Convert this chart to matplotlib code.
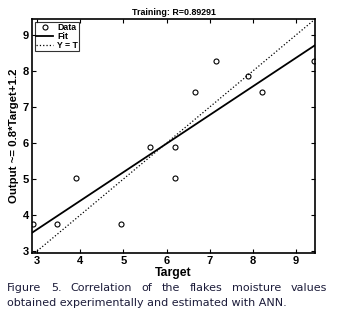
import matplotlib.pyplot as plt
import numpy as np

plt.rcParams['font.family'] = ['Liberation Sans', 'DejaVu Sans']

# values
target = [2.9, 3.46, 3.9, 4.95, 5.61, 6.19, 6.19, 6.66, 7.14, 7.88, 8.2, 9.42]
output = [3.75, 3.75, 5.03, 3.75, 5.9, 5.9, 5.03, 7.41, 8.28, 7.87, 7.41, 8.28]
fit_slope = 0.794
fit_intercept = 1.22
r_value = 0.89291
x_lim = [2.88, 9.44]
y_lim = [2.94, 9.44]

fig = plt.figure(figsize=(3.37, 3.18), dpi=100)
ax = fig.add_axes([0.095, 0.204, 0.84, 0.736])

xs = np.array(x_lim)
ax.plot(target, output, 'o', mfc='none', mec='black', ms=3.6, mew=0.8, label='Data')
ax.plot(xs, fit_slope * xs + fit_intercept, '-', color='black', lw=1.3, label='Fit')
ax.plot([y_lim[0], y_lim[1]], [y_lim[0], y_lim[1]], ':', color='black', lw=0.9, label='Y = T')

ax.set_xlim(x_lim)
ax.set_ylim(y_lim)
ax.set_xticks(range(3, 10))
ax.set_yticks(range(3, 10))
ax.tick_params(direction='in', top=True, right=True, length=3, width=0.8, labelsize=8, pad=2)
for lab in ax.get_xticklabels() + ax.get_yticklabels():
    lab.set_fontweight('bold')
for s in ax.spines.values():
    s.set_linewidth(1.2)

ax.set_title('Training: R=%.5f' % r_value, fontsize=6.4, fontweight='bold', pad=3)
ax.set_xlabel('Target', fontsize=8.8, fontweight='bold', labelpad=1)
ax.set_ylabel('Output ~= 0.8*Target+1.2', fontsize=8.2, fontweight='bold', labelpad=3)

leg = ax.legend(loc='upper left', frameon=True, fancybox=False,
                edgecolor='black', borderpad=0.15, labelspacing=0.0, handlelength=2.0,
                handletextpad=0.4, borderaxespad=0.3, prop={'weight': 'bold', 'size': 6.3})
leg.get_frame().set_linewidth(0.8)

# caption, first line justified
cap_color = '#1c1c3a'
cap_font = ['DejaVu Sans']
line1 = 'Figure 5. Correlation of the flakes moisture values'.split(' ')
line2 = 'obtained experimentally and estimated with ANN.'
x0, x1 = 7 / 337, 327 / 337
y1, y2 = 1 - 288 / 318, 1 - 303 / 318
fig.canvas.draw()
r = fig.canvas.get_renderer()
words = [fig.text(0, y1, w, fontsize=8.0, family=cap_font, color=cap_color, va='center') for w in line1]
widths = [t.get_window_extent(r).width / fig.bbox.width for t in words]
gap = (x1 - x0 - sum(widths)) / (len(words) - 1)
pos = x0
for t, w in zip(words, widths):
    t.set_x(pos)
    pos += w + gap
fig.text(x0, y2, line2, fontsize=8.0, family=cap_font, color=cap_color, va='center')

fig.savefig('out.png', dpi=100)
